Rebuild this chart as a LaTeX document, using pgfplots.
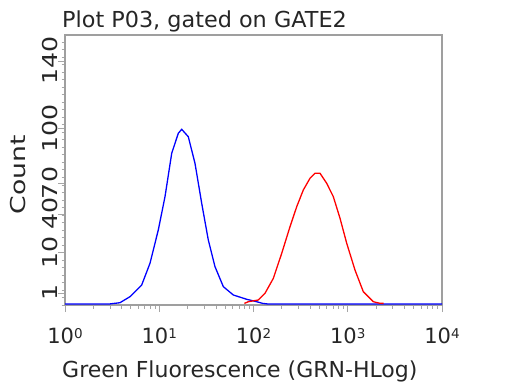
\documentclass[border=0pt]{standalone}
\usepackage{pgfplots}
\pgfplotsset{compat=1.18}
\usepackage{fontspec}
\setmainfont{DejaVu Sans}
\newcommand{\dec}[1]{10\raisebox{5pt}{\fontsize{13.5}{13.5}\selectfont #1}}
\newcommand{\ylab}[1]{\scalebox{1.23}[1]{#1}}
\begin{document}
\begin{tikzpicture}[x=1pt,y=1pt]
\useasboundingbox (0,0) rectangle (510,384);
\begin{axis}[
  at={(65pt,79pt)}, anchor=south west,
  scale only axis, width=377pt, height=270pt,
  xmode=log, xmin=1, xmax=10000, ymin=0, ymax=150,
  axis line style={gray!75, line width=1.2pt},
  tick style={gray!70, line width=0.8pt},
  tick align=outside,
  xtick pos=bottom, ytick pos=left,
  major tick length=7pt, minor tick length=3.5pt,
  xtick={1,10,100,1000,10000},
  xticklabels={\dec{0},\dec{1},\dec{2},\dec{3},\dec{4}},
  xticklabel style={font=\fontsize{21}{21}\selectfont, text=black!85, yshift=-12pt},
  ytick={6.7,29.4,50.6,67.8,98.3,135.6},
  yticklabels={\ylab{1},\ylab{10},\ylab{40},\ylab{70},\ylab{100},\ylab{140}},
  minor ytick={0,4.17,...,150},
  yticklabel style={font=\fontsize{20.5}{20.5}\selectfont, text=black!85, rotate=90, anchor=south, inner sep=0pt},
  /pgf/number format/assume math mode=true,
  clip=false,
]
\addplot[blue, line width=1.3pt] coordinates {
(1,0.6) (3.0,0.6) (3.39,0.94) (3.83,1.28) (4.89,4.61) (6.51,11.1) (7.98,23.2) (9.77,41.7) (11.51,60.2) (13.56,84.3) (15.93,95.4) (17.31,97.6) (20.33,93.5) (23.95,78.7) (28.21,56.5) (33.15,36.1) (39.04,21.3) (47.83,10.2) (61.07,5.56) (84.74,3.17) (108.1,1.83) (125,0.9) (140,0.6) (10000,0.6)
};
\addplot[red, line width=1.3pt] coordinates {
(80,0.9) (88.1,1.83) (112.4,2.78) (132.4,6.5) (162.3,14.8) (199.2,28.7) (243.9,43.5) (287.3,54.6) (337.7,63.9) (397.7,70.4) (449.3,73.2) (507.6,73.2) (598,67.6) (702.7,60.2) (827.7,48.2) (974.8,34.3) (1194,19.4) (1462,7.4) (1867,1.83) (2198,0.94) (2400,0.9)
};
\end{axis}
\node[anchor=base west, inner sep=0pt, font=\fontsize{22}{22}\selectfont, text=black!85] at (62,357) {\scalebox{1.015}[1]{Plot P03, gated on GATE2}};
\node[anchor=base west, inner sep=0pt, font=\fontsize{22}{22}\selectfont, text=black!85] at (62,7) {Green Fluorescence (GRN-HLog)};
\node[anchor=base, rotate=90, inner sep=0pt, font=\fontsize{20.5}{20.5}\selectfont, text=black!85] at (25,209) {\scalebox{1.3}[1]{Count}};
\end{tikzpicture}
\end{document}
